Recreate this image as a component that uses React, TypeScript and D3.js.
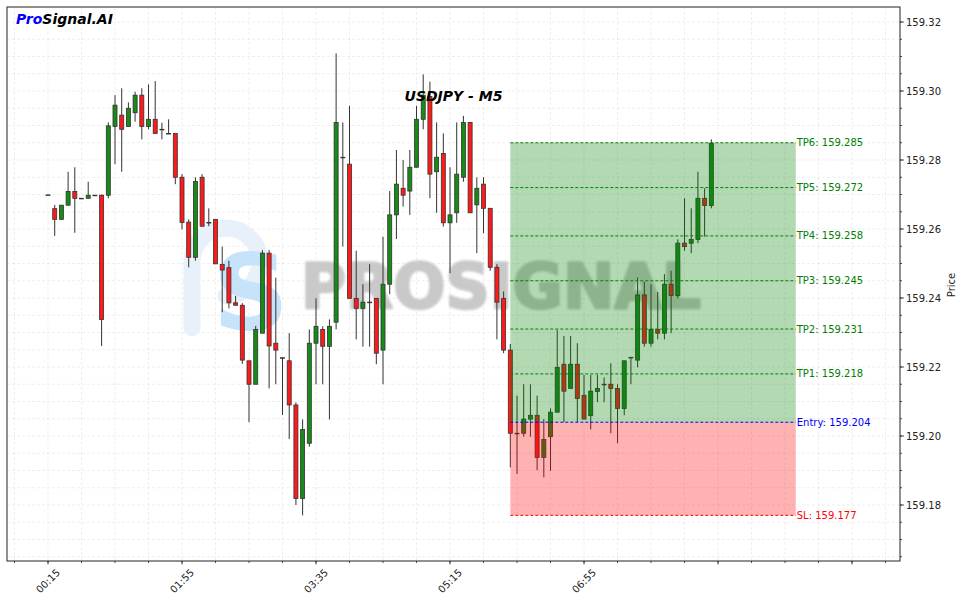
import React from "react";
import * as d3 from "d3";

// ---------- data ----------
const opens = [159.2699,159.2659,159.2628,159.2669,159.2709,159.2689,159.2689,159.2698,159.2698,159.2698,
159.2897,159.2930,159.2897,159.2937,159.2988,159.2897,159.2918,159.2889,159.2877,159.2877,
159.2750,159.2620,159.2518,159.2750,159.2619,159.2628,159.2497,159.2488,159.2386,159.2379,
159.2218,159.2150,159.2298,159.2530,159.2269,159.2227,159.2218,159.2090,159.1819,159.1979,
159.2269,159.2309,159.2260,159.2330,159.2808,159.2788,159.2399,159.2370,159.2388,159.2399,
159.2249,159.2440,159.2641,159.2718,159.2710,159.2779,159.2918,159.2984,159.2766,159.2819,
159.2618,159.2647,159.2750,159.2909,159.2670,159.2730,159.2660,159.2489,159.2399,159.2249,
159.2008,159.2008,159.2049,159.2060,159.1938,159.1998,159.2069,159.2208,159.2138,159.2208,
159.2118,159.2059,159.2129,159.2150,159.2150,159.2138,159.2080,159.2228,159.2220,159.2409,
159.2269,159.2309,159.2298,159.2440,159.2407,159.2559,159.2559,159.2570,159.2689,159.2668];
const highs = [159.2699,159.2670,159.2669,159.2766,159.2779,159.2689,159.2737,159.2698,159.2700,159.2909,
159.2988,159.3008,159.2967,159.2998,159.3008,159.3019,159.3029,159.2908,159.2918,159.2877,
159.2759,159.2628,159.2750,159.2759,159.2660,159.2628,159.2549,159.2508,159.2406,159.2385,
159.2218,159.2319,159.2539,159.2539,159.2459,159.2227,159.2298,159.2098,159.2048,159.2309,
159.2399,159.2318,159.2338,159.3109,159.2909,159.2957,159.2537,159.2440,159.2498,159.2399,
159.2578,159.2710,159.2829,159.2800,159.2829,159.2957,159.3048,159.3027,159.2909,159.2877,
159.2779,159.2909,159.2928,159.2909,159.2750,159.2750,159.2660,159.2498,159.2419,159.2267,
159.2117,159.2150,159.2150,159.2117,159.2049,159.2080,159.2307,159.2290,159.2290,159.2269,
159.2177,159.2177,159.2177,159.2170,159.2211,159.2150,159.2218,159.2228,159.2460,159.2447,
159.2440,159.2418,159.2469,159.2479,159.2570,159.2689,159.2660,159.2766,159.2718,159.2860];
const lows = [159.2699,159.2580,159.2628,159.2669,159.2589,159.2689,159.2689,159.2698,159.2261,159.2689,
159.2788,159.2766,159.2897,159.2911,159.2860,159.2889,159.2877,159.2860,159.2877,159.2730,
159.2599,159.2489,159.2508,159.2608,159.2608,159.2499,159.2359,159.2370,159.2379,159.2209,
159.2040,159.2150,159.2298,159.2138,159.2150,159.2061,159.1991,159.1800,159.1770,159.1969,
159.2150,159.2150,159.2048,159.2309,159.2549,159.2399,159.2280,159.2259,159.2259,159.2208,
159.2150,159.2411,159.2571,159.2665,159.2641,159.2779,159.2889,159.2689,159.2647,159.2607,
159.2472,159.2618,159.2737,159.2647,159.2530,159.2588,159.2479,159.2280,159.2240,159.1909,
159.1890,159.1998,159.1998,159.1901,159.1880,159.1899,159.2069,159.2040,159.2138,159.2040,
159.2049,159.2019,159.2098,159.2098,159.2008,159.1979,159.2060,159.2150,159.2199,159.2259,
159.2259,159.2280,159.2280,159.2298,159.2399,159.2537,159.2530,159.2559,159.2578,159.2660];
const closes = [159.2699,159.2628,159.2669,159.2709,159.2689,159.2689,159.2698,159.2698,159.2338,159.2899,
159.2959,159.2889,159.2950,159.2988,159.2897,159.2918,159.2877,159.2889,159.2877,159.2750,
159.2619,159.2518,159.2738,159.2608,159.2619,159.2499,159.2481,159.2386,159.2379,159.2220,
159.2150,159.2309,159.2530,159.2261,159.2249,159.2227,159.2090,159.1819,159.2019,159.2269,
159.2318,159.2260,159.2318,159.2909,159.2808,159.2399,159.2370,159.2388,159.2388,159.2240,
159.2440,159.2641,159.2730,159.2698,159.2779,159.2918,159.2988,159.2759,159.2808,159.2618,
159.2641,159.2759,159.2909,159.2647,159.2718,159.2660,159.2489,159.2388,159.2249,159.2008,
159.2008,159.2049,159.2060,159.1938,159.1990,159.2069,159.2199,159.2130,159.2208,159.2109,
159.2049,159.2130,159.2138,159.2150,159.2138,159.2080,159.2218,159.2228,159.2409,159.2269,
159.2309,159.2298,159.2440,159.2407,159.2559,159.2549,159.2570,159.2689,159.2668,159.2848];

const tpLabels = ["TP1", "TP2", "TP3", "TP4", "TP5", "TP6"];
const tpValues = [159.218, 159.231, 159.245, 159.258, 159.272, 159.285];
const entryValue = 159.204;
const slValue = 159.177;
const entryIndex = 69;
const boxEndIndex = 111.6;

const xMajorTicks = [0, 20, 40, 60, 80, 100, 120];
const xTickLabels = ["00:15", "01:55", "03:35", "05:15", "06:55"];
const yTickLabels = ["159.18", "159.20", "159.22", "159.24", "159.26", "159.28", "159.30", "159.32"];

// ---------- layout ----------
const W = 963, H = 603;
const L = 7, R = 900, T = 7, B = 561;
const FONT = "DejaVu Sans, sans-serif";

export default function App() {
  const x = d3.scaleLinear().domain([-6.12, 127.16]).range([L, R]);
  const y = d3.scaleLinear().domain([159.16377, 159.32435]).range([B, T]);
  const bw = 0.6 * (x(1) - x(0));

  const xMinor = d3.range(-5, 127, 5);
  const yMinor = d3.range(159.165, 159.3245, 0.005);
  const yMajor = yTickLabels.map(Number);

  const candles = opens.map((o, i) => ({ i, o, h: highs[i], l: lows[i], c: closes[i] }));
  const x0 = x(entryIndex), x1 = x(boxEndIndex);
  const green = "#008000";

  return (
    <svg width={W} height={H} style={{ position: "absolute", left: 0, top: 0, background: "#fff" }} fontFamily={FONT}>
      <defs>
        <filter id="blur" x="-5%" y="-20%" width="110%" height="140%">
          <feGaussianBlur stdDeviation="0.9" />
        </filter>
        <clipPath id="plot"><rect x={L} y={T} width={R - L} height={B - T} /></clipPath>
      </defs>
      <rect x={0} y={0} width={W} height={H} fill="#fff" />
      {/* grid */}
      <g stroke="#b0b0b0" strokeOpacity={0.25} strokeWidth={0.8} strokeDasharray="3,2">
        {xMinor.map((t) => <line key={"gx" + t} x1={x(t)} x2={x(t)} y1={T} y2={B} />)}
        {yMinor.map((t) => <line key={"gy" + t} x1={L} x2={R} y1={y(t)} y2={y(t)} />)}
      </g>
      {/* watermark */}
      <g clipPath="url(#plot)">
        <path d="M192,328 L192,262 A34,34 0 1 1 226,296" fill="none" stroke="#e8f1f9" strokeWidth={17} strokeLinecap="round" />
        <text x={251} y={330} textAnchor="middle" fontSize={106} fontWeight="bold" fill="#c6e3fa" fontFamily={FONT}>S</text>
        <text x={301} y={308} fontSize={62} fontWeight="bold" fill="#c9c9c9" stroke="#c9c9c9" strokeWidth={2.5} strokeLinejoin="round" textLength={400} lengthAdjust="spacingAndGlyphs" filter="url(#blur)">PROSIGNAL</text>
      </g>
      {/* candles */}
      <g>
        {candles.map((d) => {
          const up = d.c >= d.o;
          const top = y(Math.max(d.o, d.c));
          const bot = y(Math.min(d.o, d.c));
          return (
            <g key={d.i}>
              <line x1={x(d.i)} x2={x(d.i)} y1={y(d.h)} y2={y(d.l)} stroke="#333" strokeWidth={1} />
              <rect x={x(d.i) - bw / 2} y={top} width={bw} height={Math.max(bot - top, 0.6)}
                fill={up ? "#168c16" : "#ff1a1a"} stroke="#333" strokeWidth={0.8} />
            </g>
          );
        })}
      </g>
      {/* zones */}
      <rect x={x0} y={y(tpValues[5])} width={x1 - x0} height={y(entryValue) - y(tpValues[5])} fill={green} fillOpacity={0.3} />
      <rect x={x0} y={y(entryValue)} width={x1 - x0} height={y(slValue) - y(entryValue)} fill="#ff0000" fillOpacity={0.3} />
      {tpValues.map((v, k) => (
        <g key={"tp" + k}>
          <line x1={x0} x2={x1} y1={y(v)} y2={y(v)} stroke={green} strokeWidth={1} strokeDasharray="3,2" />
          <text x={x1 + 1} y={y(v)} dy="0.35em" fontSize={10} fill={green}>{`${tpLabels[k]}: ${v.toFixed(3)}`}</text>
        </g>
      ))}
      <line x1={x0} x2={x1} y1={y(entryValue)} y2={y(entryValue)} stroke="#0000ff" strokeWidth={1} strokeDasharray="3,2" />
      <text x={x1 + 1} y={y(entryValue)} dy="0.35em" fontSize={10} fill="#0000ff">{`Entry: ${entryValue.toFixed(3)}`}</text>
      <line x1={x0} x2={x1} y1={y(slValue)} y2={y(slValue)} stroke="#ff0000" strokeWidth={1} strokeDasharray="3,2" />
      <text x={x1 + 1} y={y(slValue)} dy="0.35em" fontSize={10} fill="#ff0000">{`SL: ${slValue.toFixed(3)}`}</text>

      {/* title & brand */}
      <text x={(L + R) / 2} y={101} textAnchor="middle" fontSize={14} fontWeight="bold" fontStyle="italic" fill="#000">USDJPY - M5</text>
      <text x={16} y={24} fontSize={14} fontWeight="bold" fontStyle="italic">
        <tspan fill="#0000ff">Pro</tspan><tspan fill="#000">Signal.AI</tspan>
      </text>

      {/* frame */}
      <rect x={L} y={T} width={R - L} height={B - T} fill="none" stroke="#222" strokeWidth={1} />
      {/* y axis right */}
      <g>
        {yMinor.map((t) => <line key={"ym" + t} x1={R} x2={R + 2} y1={y(t)} y2={y(t)} stroke="#222" strokeWidth={0.8} />)}
        {yMajor.map((t, k) => (
          <g key={"yM" + k}>
            <line x1={R} x2={R + 4} y1={y(t)} y2={y(t)} stroke="#222" strokeWidth={0.8} />
            <text x={R + 6} y={y(t)} dy="0.35em" fontSize={10} fill="#222">{yTickLabels[k]}</text>
          </g>
        ))}
        <text transform={`translate(951,${(T + B) / 2 + 1}) rotate(-90)`} textAnchor="middle" dy="0.35em" fontSize={10} fill="#222">Price</text>
      </g>
      {/* x axis */}
      <g>
        {xMinor.map((t) => <line key={"xm" + t} x1={x(t)} x2={x(t)} y1={B} y2={B + 2} stroke="#222" strokeWidth={0.8} />)}
        {xMajorTicks.map((t) => <line key={"xM" + t} x1={x(t)} x2={x(t)} y1={B} y2={B + 3.5} stroke="#222" strokeWidth={0.8} />)}
        {xTickLabels.map((lab, k) => (
          <text key={"xl" + k} transform={`translate(${x(xMajorTicks[k])},${581}) rotate(-45)`} textAnchor="middle" dy="0.35em" fontSize={10} fill="#222">{lab}</text>
        ))}
      </g>
    </svg>
  );
}
